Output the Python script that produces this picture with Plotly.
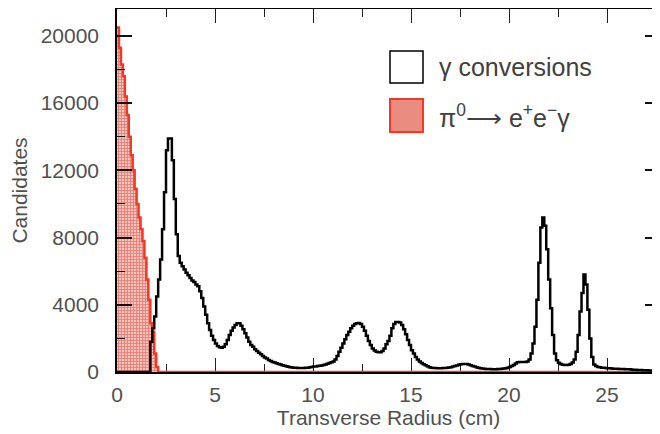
import numpy as np
import plotly.graph_objects as go

# ---------------- data (0.1 cm bins, 0 - 28 cm) ----------------
bin_width = 0.1
x_start = 0.0

gamma_counts = [
    # 0.0 - 1.0
    0, 0, 0, 0, 0, 0, 0, 0, 0, 0,
    # 1.0 - 2.0
    0, 0, 0, 0, 0, 0, 0, 1800, 2600, 3300,
    # 2.0 - 3.0
    4500, 5500, 6700, 8500, 10700, 13200, 13900, 13900, 12600, 10300,
    # 3.0 - 4.0
    8200, 6900, 6500, 6300, 6100, 5900, 5750, 5600, 5450, 5350,
    # 4.0 - 5.0
    5200, 5100, 4800, 4400, 3900, 3400, 2900, 2500, 2150, 1900,
    # 5.0 - 6.0
    1700, 1550, 1480, 1450, 1500, 1650, 1900, 2200, 2450, 2650,
    # 6.0 - 7.0
    2800, 2900, 2900, 2750, 2550, 2300, 2050, 1800, 1600, 1500,
    # 7.0 - 8.0
    1350, 1250, 1150, 1050, 950, 870, 800, 720, 650, 600,
    # 8.0 - 9.0
    560, 520, 480, 440, 400, 370, 340, 310, 290, 270,
    # 9.0 - 10.0
    260, 250, 240, 240, 235, 240, 250, 260, 280, 300,
    # 10.0 - 11.0
    320, 330, 350, 370, 390, 420, 450, 490, 530, 580,
    # 11.0 - 12.0
    620, 750, 950, 1200, 1450, 1700, 1950, 2200, 2400, 2600,
    # 12.0 - 13.0
    2750, 2850, 2900, 2920, 2850, 2700, 2450, 2150, 1850, 1600,
    # 13.0 - 14.0
    1400, 1280, 1200, 1170, 1180, 1250, 1400, 1650, 1850, 2150,
    # 14.0 - 15.0
    2600, 2850, 2970, 2980, 2950, 2800, 2550, 2250, 1900, 1600,
    # 15.0 - 16.0
    1300, 1100, 900, 750, 620, 540, 460, 400, 340, 290,
    # 16.0 - 17.0
    260, 245, 235, 230, 230, 230, 235, 240, 250, 265,
    # 17.0 - 18.0
    290, 320, 350, 390, 430, 460, 480, 480, 470, 440,
    # 18.0 - 19.0
    400, 360, 320, 290, 260, 230, 210, 195, 185, 180,
    # 19.0 - 20.0
    175, 170, 170, 170, 175, 180, 190, 210, 230, 260,
    # 20.0 - 21.0
    300, 350, 420, 500, 580, 600, 600, 600, 600, 620,
    # 21.0 - 22.0
    750, 1100, 1700, 2700, 4300, 6500, 8600, 9200, 8700, 7300,
    # 22.0 - 23.0
    5500, 3800, 2200, 1100, 700, 550, 470, 430, 410, 410,
    # 23.0 - 24.0
    430, 480, 570, 750, 1200, 2200, 3600, 4700, 5800, 5200,
    # 24.0 - 25.0
    3700, 2000, 900, 450, 350, 300, 280, 260, 250, 240,
    # 25.0 - 26.0
    230, 220, 210, 200, 195, 190, 185, 180, 175, 170,
    # 26.0 - 27.0
    165, 160, 150, 140, 130, 125, 120, 115, 110, 105,
    # 27.0 - 28.0
    100, 95, 90, 85, 80, 75, 70, 65, 60, 60,
]

pi0_counts = [
    20500, 19300, 18300, 17600, 16400, 15300, 14000, 12900, 12000, 10900,
    10000, 9200, 8500, 7800, 6800, 5500, 4300, 2900, 2400, 1100,
    300,
] + [0] * (len(gamma_counts) - 21)

x_ticks = [0, 5, 10, 15, 20, 25]
y_ticks = [0, 4000, 8000, 12000, 16000, 20000]
y_tick_labels = ["0", "4000", "8000", "12000", "16000", "20000"]

legend_labels = ["γ conversions", "π<sup>0</sup>⟶ e<sup>+</sup>e<sup>−</sup>γ"]

# ---------------- figure ----------------
def step(counts):
    n = len(counts)
    edges = x_start + bin_width * np.arange(n + 1)
    return edges, list(counts) + [counts[-1]]

# the page body adds an 8 px offset; figure is sized so the plot lands where the reference has it
OFF = 8
W, H = 660 - OFF, 434 - OFF
L, R, T, B = 117 - OFF, 0, 9 - OFF, 434 - 372
pw, ph = W - L - R, H - T - B


def px(xp):  # window pixel -> paper fraction
    return (xp - OFF - L) / pw


def py(yp):
    return (H - B - (yp - OFF)) / ph


font_fam = "Liberation Sans, Arial, Helvetica, sans-serif"
txt_col = "#505050"

fig = go.Figure()

ex, ey = step(pi0_counts)
fig.add_trace(go.Scatter(
    x=ex, y=ey, mode="lines", line=dict(shape="hv", color="#ee3a26", width=2.5),
    fill="tozeroy", fillcolor="#f6c2bb",
    fillpattern=dict(shape="+", fgcolor="#dc3b2e", bgcolor="#f4c4bd", size=3, solidity=0.5),
    showlegend=False, hoverinfo="skip",
))

gx, gy = step(gamma_counts)
fig.add_trace(go.Scatter(
    x=gx, y=gy, mode="lines", line=dict(shape="hv", color="#000000", width=2.5),
    showlegend=False, hoverinfo="skip",
))

# secondary y axis only for right-side ticks (no visible line)
fig.add_trace(go.Scatter(x=[None], y=[None], yaxis="y2", showlegend=False, hoverinfo="skip"))

fig.update_layout(
    width=W, height=H,
    margin=dict(l=L, r=R, t=T, b=B, pad=0, autoexpand=False),
    paper_bgcolor="white", plot_bgcolor="white",
    font=dict(family=font_fam, size=20, color=txt_col),
    xaxis=dict(
        range=[0, pw / 19.6], automargin=False,
        tickvals=x_ticks, ticks="inside", ticklen=14, tickwidth=1, tickcolor="#222",
        minor=dict(dtick=2.5, ticks="inside", ticklen=8, tickwidth=1, tickcolor="#222"),
        showline=True, linecolor="#000", linewidth=1.5, mirror="ticks",
        showgrid=False, zeroline=False, layer="below traces",
        tickfont=dict(size=21, color=txt_col), ticklabelstandoff=3,
        title=dict(text="Transverse Radius (cm)", font=dict(size=21, color=txt_col), standoff=3),
    ),
    yaxis=dict(
        range=[0, 21600], automargin=False,
        tickvals=y_ticks, ticktext=y_tick_labels, ticks="inside", ticklen=15, tickwidth=1.5, tickcolor="#111",
        minor=dict(dtick=2000, ticks="inside", ticklen=8, tickwidth=1, tickcolor="#111"),
        showline=True, linecolor="#000", linewidth=1.5,
        showgrid=False, zeroline=False, layer="above traces",
        tickfont=dict(size=21, color=txt_col), ticklabelstandoff=12,
        title=dict(text="Candidates", font=dict(size=21, color=txt_col), standoff=11),
    ),
    yaxis2=dict(
        overlaying="y", side="right", range=[0, 21600], tickvals=y_ticks, automargin=False,
        ticks="inside", ticklen=15, tickwidth=1.5, tickcolor="#111",
        minor=dict(dtick=2000, ticks="inside", ticklen=8, tickwidth=1, tickcolor="#111"),
        showticklabels=False, showline=False, showgrid=False, zeroline=False,
    ),
    shapes=[
        dict(type="rect", xref="paper", yref="paper",
             x0=px(390), x1=px(423), y0=py(83), y1=py(51),
             line=dict(color="#000", width=1.5), fillcolor="white"),
        dict(type="rect", xref="paper", yref="paper",
             x0=px(390), x1=px(423), y0=py(132), y1=py(99),
             line=dict(color="#ee3a26", width=2), fillcolor="#ea8c80"),
    ],
    annotations=[
        dict(xref="paper", yref="paper", x=px(437), y=py(67), xanchor="left", yanchor="middle",
             text=legend_labels[0], showarrow=False, font=dict(size=25, color="#404040")),
        dict(xref="paper", yref="paper", x=px(437), y=py(116), xanchor="left", yanchor="middle",
             text=legend_labels[1], showarrow=False, font=dict(size=25, color="#404040")),
    ],
)

fig.write_html("out.html")
